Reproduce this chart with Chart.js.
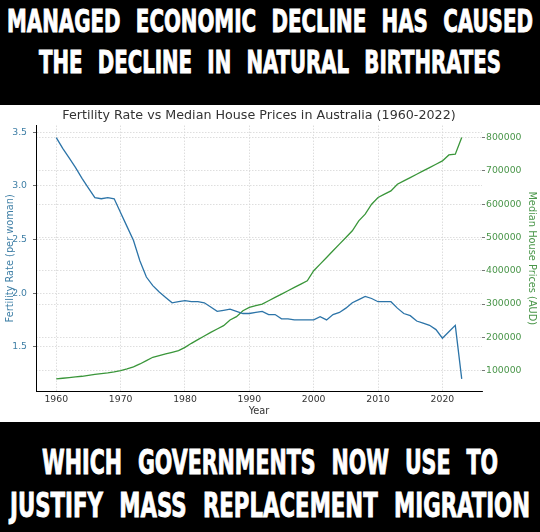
<!DOCTYPE html>
<html lang="en">
<head>
    <meta charset="UTF-8">
    <title>Fertility Rate vs Median House Prices in Australia</title>
    <script src="https://cdn.jsdelivr.net/npm/chart.js"></script>
    <style>
        html, body {
            margin: 0;
            padding: 0;
            background: #000;
        }

        .page {
            position: relative;
            width: 540px;
            height: 532px;
            overflow: hidden;
            background: #000;
        }

        .caption {
            position: absolute;
            left: 0;
            width: 540px;
            height: 40px;
            color: #fff;
            font-family: 'DejaVu Sans Condensed', 'DejaVu Sans', sans-serif;
            font-weight: bold;
            line-height: 1;
            white-space: nowrap;
        }

        .caption span {
            position: absolute;
            left: 270px;
            top: 0;
            word-spacing: 0.38em;
            -webkit-text-stroke: 0.9px #fff;
            transform-origin: center center;
        }

        #chartWrapper {
            position: absolute;
            left: 0;
            top: 105px;
            width: 540px;
            height: 317px;
            background: #fff;
        }
    </style>
</head>
<body>
    <div class="page">
        <div class="caption" style="top: 6.3px; font-size: 31.5px;"><span data-w="526">MANAGED ECONOMIC DECLINE HAS CAUSED</span></div>
        <div class="caption" style="top: 46.8px; font-size: 31.5px;"><span data-w="462">THE DECLINE IN NATURAL BIRTHRATES</span></div>

        <div id="chartWrapper">
            <canvas id="fertilityChart" width="540" height="317"></canvas>
        </div>

        <div class="caption" style="top: 444.6px; font-size: 34px;"><span data-w="456">WHICH GOVERNMENTS NOW USE TO</span></div>
        <div class="caption" style="top: 487.6px; font-size: 34px;"><span data-w="520">JUSTIFY MASS REPLACEMENT MIGRATION</span></div>
    </div>

    <script>
        // data
        const years = [
            1960, 1961, 1962, 1963, 1964, 1965, 1966, 1967, 1968, 1969,
            1970, 1971, 1972, 1973, 1974, 1975, 1976, 1977, 1978, 1979,
            1980, 1981, 1982, 1983, 1984, 1985, 1986, 1987, 1988, 1989,
            1990, 1991, 1992, 1993, 1994, 1995, 1996, 1997, 1998, 1999,
            2000, 2001, 2002, 2003, 2004, 2005, 2006, 2007, 2008, 2009,
            2010, 2011, 2012, 2013, 2014, 2015, 2016, 2017, 2018, 2019,
            2020, 2021, 2022, 2023
        ];

        const fertilityRate = [
            3.45, 3.35, 3.26, 3.17, 3.07, 2.98, 2.89, 2.88, 2.89, 2.88,
            2.75, 2.62, 2.49, 2.30, 2.15, 2.07, 2.01, 1.96, 1.91, 1.92,
            1.93, 1.92, 1.92, 1.91, 1.87, 1.83, 1.84, 1.85, 1.83, 1.81,
            1.81, 1.82, 1.83, 1.80, 1.80, 1.76, 1.76, 1.75, 1.75, 1.75,
            1.75, 1.78, 1.75, 1.80, 1.82, 1.86, 1.91, 1.94, 1.97, 1.95,
            1.92, 1.92, 1.92, 1.86, 1.81, 1.79, 1.74, 1.72, 1.70, 1.66,
            1.58, 1.64, 1.70, 1.20
        ];

        const housePrices = [
            75000, 77000, 79000, 81000, 83000, 86000, 89000, 91000, 93000, 96000,
            100000, 105000, 111000, 120000, 130000, 140000, 145000, 150000, 155000, 160000,
            170000, 182000, 193000, 204000, 215000, 225000, 235000, 252000, 262000, 280000,
            290000, 295000, 300000, 310000, 320000, 330000, 340000, 350000, 360000, 370000,
            400000, 420000, 440000, 460000, 480000, 500000, 520000, 550000, 570000, 600000,
            620000, 630000, 640000, 660000, 670000, 680000, 690000, 700000, 710000, 720000,
            730000, 748000, 750000, 800000
        ];

        const yearTicks = [1960, 1970, 1980, 1990, 2000, 2010, 2020];
        const fertilityTicks = [1.5, 2.0, 2.5, 3.0, 3.5];
        const priceTicks = [100000, 200000, 300000, 400000, 500000, 600000, 700000, 800000];

        const blue = '#2c74a8';
        const blueText = '#3f7fa6';
        const green = '#3a963a';
        const greenText = '#4a964a';
        const gridColor = '#d6d6d6';
        const tickFont = { family: 'DejaVu Sans', size: 9.3 };
        const labelFont = { family: 'DejaVu Sans', size: 9.8 };

        // squeeze each caption line to the width it has in the picture, centred on the page
        document.querySelectorAll('.caption span').forEach(function (span) {
            const w = span.getBoundingClientRect().width;
            span.style.transform = 'translateX(-50%) scaleX(' + (Number(span.dataset.w) / w) + ')';
        });

        const ctx = document.getElementById('fertilityChart').getContext('2d');
        new Chart(ctx, {
            type: 'line',
            data: {
                datasets: [
                    {
                        label: 'Fertility Rate',
                        data: fertilityRate.map((v, i) => ({ x: years[i], y: v })),
                        borderColor: blue,
                        borderWidth: 1.3,
                        pointRadius: 0,
                        tension: 0,
                        yAxisID: 'y'
                    },
                    {
                        label: 'Median House Prices',
                        data: housePrices.map((v, i) => ({ x: years[i], y: v })),
                        borderColor: green,
                        borderWidth: 1.3,
                        pointRadius: 0,
                        tension: 0,
                        yAxisID: 'y1'
                    }
                ]
            },
            options: {
                responsive: false,
                animation: false,
                layout: { padding: 0 },
                plugins: {
                    legend: { display: false },
                    tooltip: { enabled: false },
                    title: {
                        display: true,
                        fullSize: false,
                        text: 'Fertility Rate vs Median House Prices in Australia (1960-2022)',
                        color: '#333',
                        font: { family: 'DejaVu Sans', size: 12.7, weight: 'normal' },
                        padding: { top: 3, bottom: 2.3 }
                    }
                },
                scales: {
                    x: {
                        type: 'linear',
                        min: 1956.85,
                        max: 2026.15,
                        afterBuildTicks: axis => { axis.ticks = yearTicks.map(v => ({ value: v })); },
                        afterFit: axis => { axis.height = 31; },
                        ticks: {
                            color: '#333',
                            font: tickFont,
                            padding: 3,
                            maxRotation: 0,
                            callback: v => String(v)
                        },
                        grid: { color: gridColor, lineWidth: 0.8, drawTicks: false },
                        border: { color: '#000', width: 1, dash: [1.5, 1.5] },
                        title: {
                            display: true,
                            text: 'Year',
                            color: '#333',
                            font: labelFont,
                            padding: { top: 0, bottom: 5 }
                        }
                    },
                    y: {
                        position: 'left',
                        min: 1.0875,
                        max: 3.5625,
                        afterBuildTicks: axis => { axis.ticks = fertilityTicks.map(v => ({ value: v })); },
                        afterFit: axis => { axis.width = 36; },
                        ticks: {
                            color: blueText,
                            font: tickFont,
                            padding: 6,
                            callback: v => v.toFixed(1)
                        },
                        grid: { color: gridColor, lineWidth: 0.8, tickLength: 3, tickColor: '#444', tickWidth: 0.8 },
                        border: { color: '#000', width: 1, dash: [1.5, 1.5] },
                        title: {
                            display: true,
                            text: 'Fertility Rate (per woman)',
                            color: blueText,
                            font: labelFont,
                            padding: { top: 5, bottom: 4 }
                        }
                    },
                    y1: {
                        position: 'right',
                        min: 38750,
                        max: 836250,
                        afterBuildTicks: axis => { axis.ticks = priceTicks.map(v => ({ value: v })); },
                        afterFit: axis => { axis.width = 58; },
                        ticks: {
                            color: greenText,
                            font: tickFont,
                            padding: 1,
                            callback: v => String(v)
                        },
                        grid: { color: gridColor, lineWidth: 0.8, tickLength: 3, tickColor: '#555', tickWidth: 0.8 },
                        border: { display: false, dash: [1.5, 1.5] },
                        title: {
                            display: true,
                            text: 'Median House Prices (AUD)',
                            color: greenText,
                            font: labelFont,
                            padding: { top: 3, bottom: 4 }
                        }
                    }
                }
            }
        });
    </script>
</body>
</html>
